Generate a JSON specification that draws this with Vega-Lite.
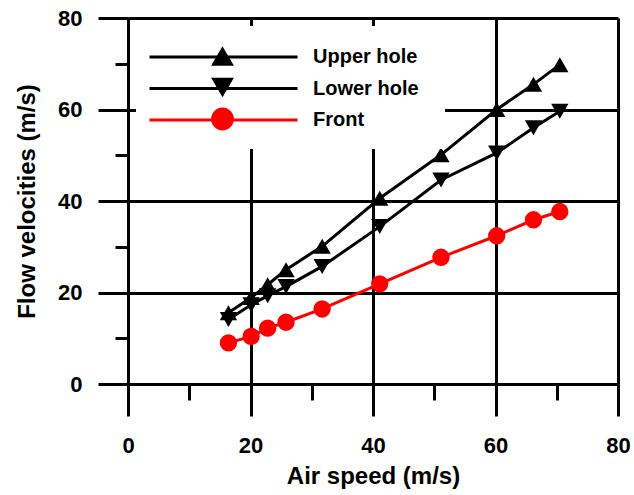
{
  "$schema": "https://vega.github.io/schema/vega-lite/v6.json",
  "width": 490,
  "height": 366,
  "autosize": {"type": "none"},
  "padding": {"left": 128, "top": 18, "right": 16, "bottom": 111},
  "background": "white",
  "config": {
    "view": {"stroke": null},
    "font": "Liberation Sans",
    "axis": {
      "domainColor": "black",
      "domainWidth": 3,
      "tickColor": "black",
      "tickWidth": 3,
      "gridColor": "black",
      "gridWidth": 3,
      "labelFont": "Liberation Sans",
      "labelFontWeight": "bold",
      "labelFontSize": 22,
      "labelColor": "black",
      "titleFont": "Liberation Sans",
      "titleFontWeight": "bold",
      "titleFontSize": 24,
      "titleColor": "black"
    }
  },
  "data": {
    "values": [
      {"series": "Upper hole", "x": 16.4, "y": 15.6},
      {"series": "Upper hole", "x": 20.1, "y": 18.9},
      {"series": "Upper hole", "x": 22.8, "y": 21.7},
      {"series": "Upper hole", "x": 25.8, "y": 25.0},
      {"series": "Upper hole", "x": 31.7, "y": 30.1},
      {"series": "Upper hole", "x": 41.1, "y": 40.6},
      {"series": "Upper hole", "x": 51.1, "y": 50.1},
      {"series": "Upper hole", "x": 60.2, "y": 60.0},
      {"series": "Upper hole", "x": 66.2, "y": 65.5},
      {"series": "Upper hole", "x": 70.5, "y": 69.8},
      {"series": "Lower hole", "x": 16.4, "y": 14.1},
      {"series": "Lower hole", "x": 20.1, "y": 17.3},
      {"series": "Lower hole", "x": 22.8, "y": 19.3},
      {"series": "Lower hole", "x": 25.8, "y": 21.3},
      {"series": "Lower hole", "x": 31.7, "y": 25.7},
      {"series": "Lower hole", "x": 41.1, "y": 34.4},
      {"series": "Lower hole", "x": 51.1, "y": 44.6},
      {"series": "Lower hole", "x": 60.2, "y": 50.5},
      {"series": "Lower hole", "x": 66.2, "y": 56.0},
      {"series": "Lower hole", "x": 70.5, "y": 59.6},
      {"series": "Front", "x": 16.4, "y": 9.0},
      {"series": "Front", "x": 20.1, "y": 10.4},
      {"series": "Front", "x": 22.8, "y": 12.2},
      {"series": "Front", "x": 25.8, "y": 13.5},
      {"series": "Front", "x": 31.7, "y": 16.4},
      {"series": "Front", "x": 41.1, "y": 21.9},
      {"series": "Front", "x": 51.1, "y": 27.7},
      {"series": "Front", "x": 60.2, "y": 32.4},
      {"series": "Front", "x": 66.2, "y": 35.9},
      {"series": "Front", "x": 70.5, "y": 37.7}
    ]
  },
  "encoding": {
    "x": {
      "field": "x",
      "type": "quantitative",
      "scale": {"domain": [0, 80], "nice": false, "zero": false},
      "axis": {
        "title": "Air speed (m/s)",
        "values": [0, 10, 20, 30, 40, 50, 60, 70, 80],
        "labelExpr": "datum.value % 20 === 0 ? datum.label : ''",
        "tickSize": {"condition": {"test": "datum.value % 20 === 0", "value": 32}, "value": 16},
        "gridOpacity": {"condition": {"test": "datum.value % 20 === 0", "value": 1}, "value": 0},
        "grid": true,
        "labelPadding": 19,
        "titlePadding": 8,
        "labelFlush": false,
        "labelOverlap": false
      }
    },
    "y": {
      "field": "y",
      "type": "quantitative",
      "scale": {"domain": [0, 80], "nice": false, "zero": false},
      "axis": {
        "title": "Flow velocities (m/s)",
        "values": [0, 10, 20, 30, 40, 50, 60, 70, 80],
        "labelExpr": "datum.value % 20 === 0 ? datum.label : ''",
        "tickSize": {"condition": {"test": "datum.value % 20 === 0", "value": 30}, "value": 13},
        "gridOpacity": {"condition": {"test": "datum.value % 20 === 0", "value": 1}, "value": 0},
        "grid": true,
        "labelPadding": 16,
        "titlePadding": 18,
        "labelFlush": false,
        "labelOverlap": false
      }
    }
  },
  "layer": [
    {
      "mark": {"type": "point", "filled": true, "size": 300, "opacity": 1},
      "encoding": {
        "shape": {
          "field": "series",
          "type": "nominal",
          "scale": {"domain": ["Upper hole", "Lower hole", "Front"], "range": ["triangle-up", "triangle-down", "circle"]},
          "legend": {
            "orient": "top-left",
            "offset": 8,
            "title": null,
            "symbolSize": 520,
            "clipHeight": 30,
            "rowPadding": 1.5,
            "padding": 15,
            "symbolOffset": 59,
            "labelOffset": 195,
            "labelExpr": "''",
            "labelFontSize": 20,
            "symbolOpacity": 1,
            "fillColor": "white"
          }
        },
        "fill": {
          "field": "series",
          "type": "nominal",
          "scale": {"domain": ["Upper hole", "Lower hole", "Front"], "range": ["black", "black", "#ff0000"]},
          "legend": {
            "orient": "top-left",
            "offset": 8,
            "title": null,
            "symbolSize": 520,
            "clipHeight": 30,
            "rowPadding": 1.5,
            "padding": 15,
            "symbolOffset": 59,
            "labelOffset": 195,
            "labelExpr": "''",
            "labelFontSize": 20,
            "symbolOpacity": 1,
            "fillColor": "white"
          }
        }
      }
    },
    {
      "mark": {"type": "line", "strokeWidth": 3},
      "encoding": {
        "stroke": {
          "field": "series",
          "type": "nominal",
          "scale": {"domain": ["Upper hole", "Lower hole", "Front"], "range": ["black", "black", "#ff0000"]},
          "legend": {
            "orient": "none",
            "legendX": 2,
            "legendY": 15,
            "title": null,
            "symbolType": "stroke",
            "symbolSize": 21904,
            "symbolStrokeWidth": 3,
            "clipHeight": 30,
            "rowPadding": 1.5,
            "padding": 9,
            "symbolOffset": 9,
            "labelOffset": 14,
            "labelFont": "Liberation Sans",
            "labelFontWeight": "bold",
            "labelFontSize": 20,
            "labelColor": "black"
          }
        }
      }
    }
  ]
}
